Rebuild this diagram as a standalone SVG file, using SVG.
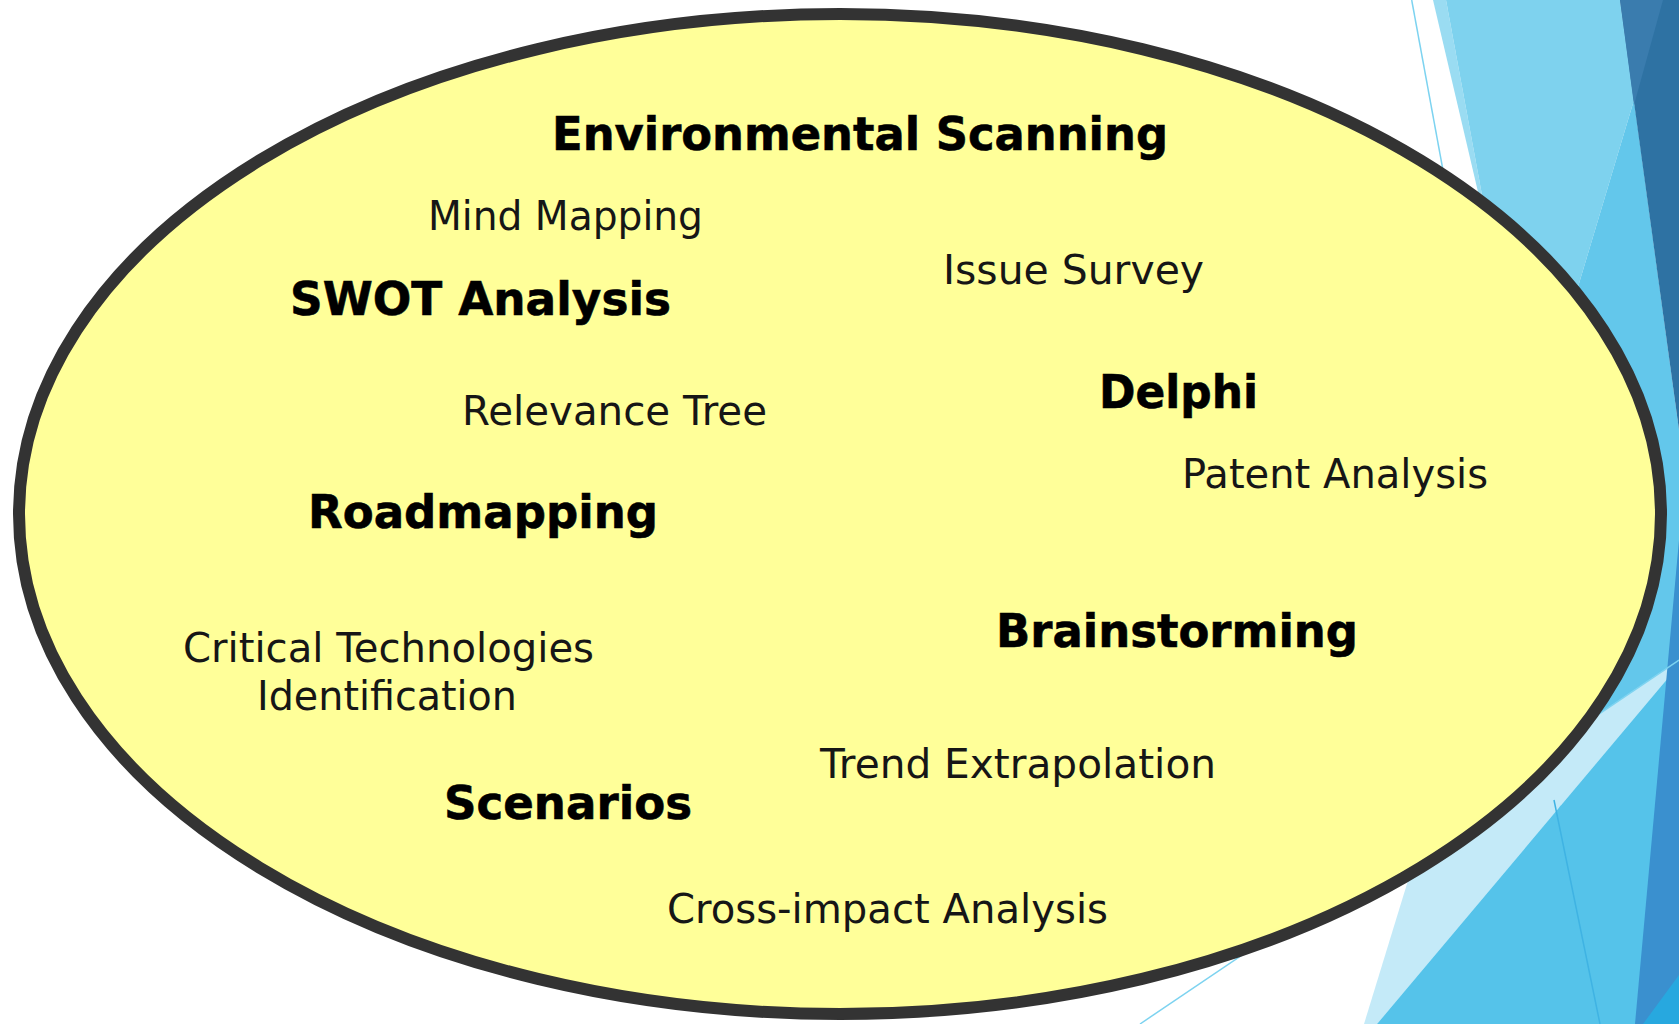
<svg xmlns="http://www.w3.org/2000/svg" width="1679" height="1024" viewBox="0 0 1679 1024">
  <style>
    .bold { font-family: "DejaVu Sans", Verdana, "Liberation Sans", sans-serif; font-weight: bold; font-size: 47px; fill: #000000; stroke: #000000; stroke-width: 0.6; }
    .reg { font-family: "DejaVu Sans", Verdana, "Liberation Sans", sans-serif; font-size: 40px; fill: #161616; }
    .thin { stroke-width: 1.5; fill: none; }
  </style>
  <rect x="0" y="0" width="1679" height="1024" fill="#ffffff"/>
  <g id="background">
    <line class="thin" x1="1411.7" y1="0" x2="1600" y2="1024" stroke="#7dd3f0"/>
    <polygon points="1433,0 1446,0 1482,195 1478,192" fill="#9adcf2"/>
    <polygon points="1446,0 1620,0 1634,100 1542,407 1482,195" fill="#7ed2ee"/>
    <polygon points="1634,100 1679,430 1679,660 1422.6,833 1400,700 1542,407" fill="#63c7eb"/>
    <polygon points="1620,0 1679,0 1679,430" fill="#2e72a3"/>
    <polygon points="1620,0 1663,0 1634,105" fill="#3a7cae"/>
    <polygon points="1364,1024 1377,1024 1679,665 1679,660 1422.6,833" fill="#c4eaf8"/>
    <polygon points="1377,1024 1679,665 1679,1024" fill="#55c3ea"/>
    <polygon points="1679,540 1679,1024 1635,1024" fill="#3a90cf"/>
    <polygon points="1643,1024 1679,975 1679,1024" fill="#27a8df"/>
    <line class="thin" x1="1554" y1="800" x2="1600" y2="1024" stroke="#3fb3e3"/>
    <line class="thin" x1="1140" y1="1024" x2="1679" y2="660" stroke="#7dd3f0"/>
  </g>
  <g id="oval">
    <ellipse cx="840" cy="514" rx="821" ry="500" fill="#ffff99" stroke="#333333" stroke-width="12"/>
  </g>
  <g id="connectors"></g>
  <g id="environmental-scanning"><text class="bold" x="552" y="150" textLength="616" lengthAdjust="spacingAndGlyphs">Environmental Scanning</text></g>
  <g id="mind-mapping"><text class="reg" x="428" y="230" textLength="275" lengthAdjust="spacingAndGlyphs">Mind Mapping</text></g>
  <g id="issue-survey"><text class="reg" x="943" y="284" textLength="261" lengthAdjust="spacingAndGlyphs">Issue Survey</text></g>
  <g id="swot-analysis"><text class="bold" x="290" y="315" textLength="381" lengthAdjust="spacingAndGlyphs">SWOT Analysis</text></g>
  <g id="delphi"><text class="bold" x="1099" y="408" textLength="159" lengthAdjust="spacingAndGlyphs">Delphi</text></g>
  <g id="relevance-tree"><text class="reg" x="462" y="425" textLength="305" lengthAdjust="spacingAndGlyphs">Relevance Tree</text></g>
  <g id="patent-analysis"><text class="reg" x="1182" y="488" textLength="306" lengthAdjust="spacingAndGlyphs">Patent Analysis</text></g>
  <g id="roadmapping"><text class="bold" x="308" y="528" textLength="350" lengthAdjust="spacingAndGlyphs">Roadmapping</text></g>
  <g id="critical-technologies-identification">
    <text class="reg" x="183" y="662" textLength="411" lengthAdjust="spacingAndGlyphs">Critical Technologies</text>
    <text class="reg" x="257" y="710" textLength="260" lengthAdjust="spacingAndGlyphs">Identification</text>
  </g>
  <g id="brainstorming"><text class="bold" x="996" y="647" textLength="362" lengthAdjust="spacingAndGlyphs">Brainstorming</text></g>
  <g id="trend-extrapolation"><text class="reg" x="820" y="778" textLength="396" lengthAdjust="spacingAndGlyphs">Trend Extrapolation</text></g>
  <g id="scenarios"><text class="bold" x="444" y="819" textLength="248" lengthAdjust="spacingAndGlyphs">Scenarios</text></g>
  <g id="cross-impact-analysis"><text class="reg" x="667" y="923" textLength="441" lengthAdjust="spacingAndGlyphs">Cross-impact Analysis</text></g>
</svg>
